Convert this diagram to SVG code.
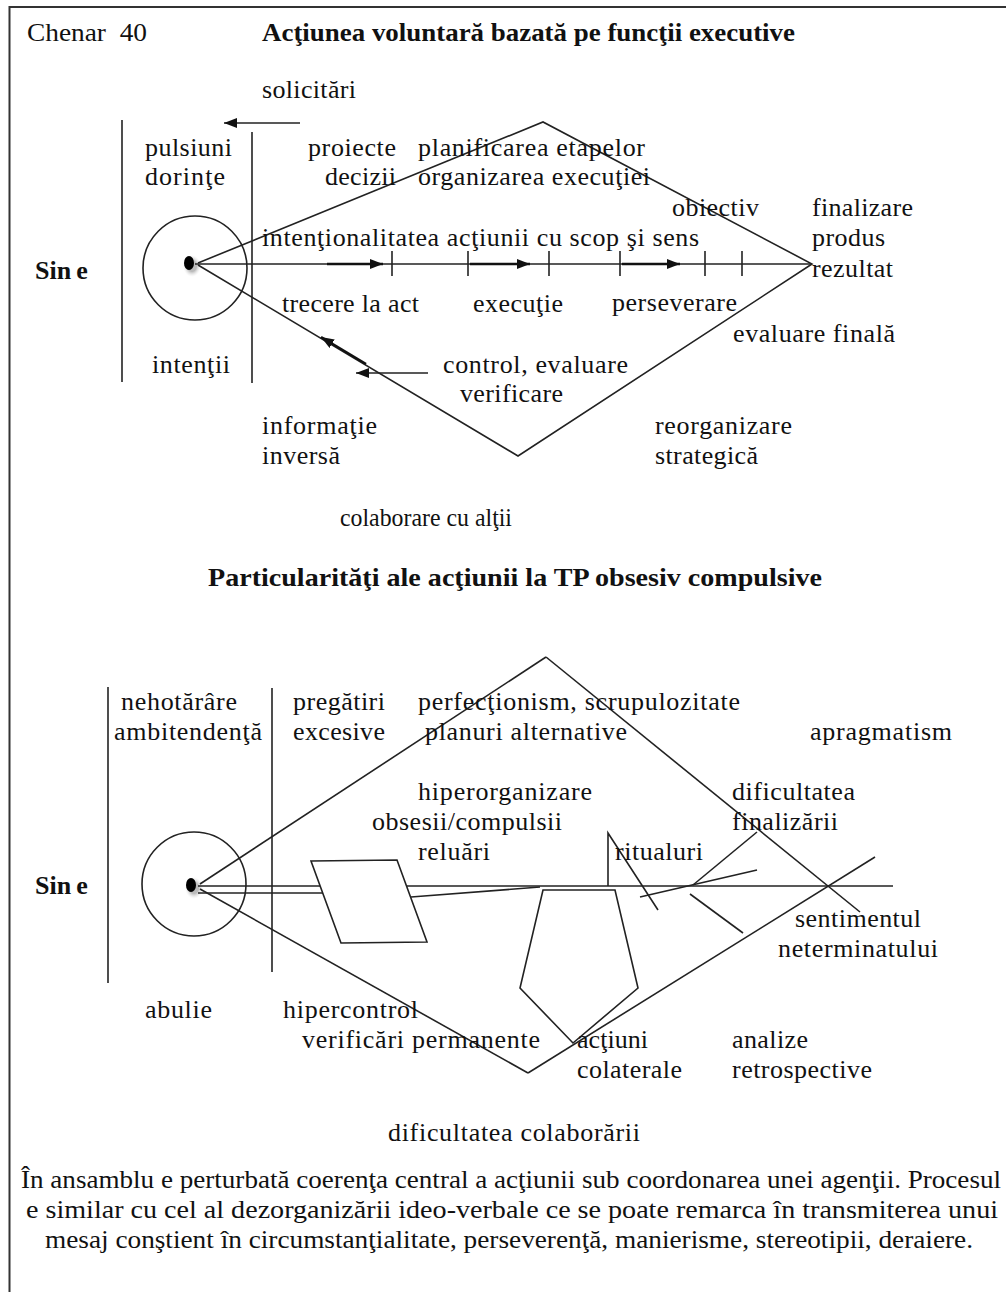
<svg xmlns="http://www.w3.org/2000/svg" width="1006" height="1292" viewBox="0 0 1006 1292">
  <style>
    .t { font-family: "Liberation Serif", "Times New Roman", serif; font-size: 26px; fill: #111; }
    .b { font-weight: bold; }
    .p { font-size: 25px; }
    .ln { stroke: #222; stroke-width: 1.6; fill: none; }
    .thick { stroke: #111; stroke-width: 2.6; fill: none; }
    .frame { stroke: #333; stroke-width: 2; fill: none; }
  </style>
  <defs>
    <marker id="ah" markerUnits="userSpaceOnUse" markerWidth="14" markerHeight="10" refX="13" refY="5" orient="auto">
      <path d="M0,0 L13,5 L0,10 z" fill="#111"/>
    </marker>
    <radialGradient id="halo" cx="0.5" cy="0.5" r="0.5">
      <stop offset="0.5" stop-color="#bbb"/>
      <stop offset="1" stop-color="#eee" stop-opacity="0"/>
    </radialGradient>
  </defs>

  <rect width="1006" height="1292" fill="#fff"/>
  <path class="frame" d="M9.5,1292 V7 H1006"/>

  <!-- headings -->
  <g id="headings">
    <text class="t" x="27" y="41" textLength="120" lengthAdjust="spacingAndGlyphs">Chenar&#160; 40</text>
    <text class="t b" x="262" y="41" textLength="533" lengthAdjust="spacingAndGlyphs">Acţiunea voluntară bazată pe funcţii executive</text>
    <text class="t b" x="208" y="586" textLength="614" lengthAdjust="spacingAndGlyphs">Particularităţi ale acţiunii la TP obsesiv compulsive</text>
  </g>

  <!-- upper scheme: voluntary action -->
  <g id="self-top">
    <line class="ln" x1="122" y1="120" x2="122" y2="382"/>
    <line class="ln" x1="252" y1="132" x2="252" y2="383"/>
    <circle class="ln" cx="195" cy="268" r="52"/>
    <ellipse cx="192" cy="266" rx="9" ry="11" fill="url(#halo)"/>
    <ellipse cx="189" cy="263" rx="5" ry="7" fill="#000"/>
    <text class="t b" x="35" y="279">Sin<tspan dx="5">e</tspan></text>
  </g>

  <g id="connectors-top">
    <!-- diamond -->
    <polyline class="ln" points="198,263 543,122 812,264 518,456 198,265"/>
    <!-- main axis -->
    <line class="ln" x1="195" y1="264" x2="812" y2="264"/>
    <g class="ln">
      <line x1="392" y1="251" x2="392" y2="276"/>
      <line x1="468" y1="251" x2="468" y2="276"/>
      <line x1="549" y1="251" x2="549" y2="276"/>
      <line x1="620" y1="251" x2="620" y2="276"/>
      <line x1="705" y1="251" x2="705" y2="276"/>
      <line x1="742" y1="251" x2="742" y2="276"/>
    </g>
    <line class="thick" x1="327" y1="264" x2="383" y2="264" marker-end="url(#ah)"/>
    <line class="thick" x1="470" y1="264" x2="530" y2="264" marker-end="url(#ah)"/>
    <line class="thick" x1="622" y1="264" x2="680" y2="264" marker-end="url(#ah)"/>
    <!-- solicitations arrow -->
    <line class="ln" x1="300" y1="123" x2="224" y2="123" marker-end="url(#ah)"/>
    <!-- feedback arrows -->
    <line class="thick" x1="366" y1="364" x2="321" y2="337" marker-end="url(#ah)"/>
    <line class="ln" x1="428" y1="373" x2="356" y2="373" marker-end="url(#ah)"/>
  </g>

  <g id="labels-top">
    <text class="t" x="262" y="98" textLength="94">solicitări</text>
    <text class="t" x="145" y="156" textLength="87">pulsiuni</text>
    <text class="t" x="145" y="185" textLength="80">dorinţe</text>
    <text class="t" x="308" y="156" textLength="88">proiecte</text>
    <text class="t" x="325" y="185" textLength="71">decizii</text>
    <text class="t" x="418" y="156" textLength="227">planificarea etapelor</text>
    <text class="t" x="418" y="185" textLength="232">organizarea execuţiei</text>
    <text class="t" x="672" y="216" textLength="87">obiectiv</text>
    <text class="t" x="812" y="216" textLength="101">finalizare</text>
    <text class="t" x="812" y="246" textLength="73">produs</text>
    <text class="t" x="812" y="277" textLength="81">rezultat</text>
    <text class="t" x="262" y="246" textLength="437">intenţionalitatea acţiunii cu scop şi sens</text>
    <text class="t" x="282" y="312" textLength="137">trecere la act</text>
    <text class="t" x="473" y="312" textLength="90">execuţie</text>
    <text class="t" x="612" y="311" textLength="125">perseverare</text>
    <text class="t" x="733" y="342" textLength="162">evaluare finală</text>
    <text class="t" x="152" y="373" textLength="78">intenţii</text>
    <text class="t" x="443" y="373" textLength="185">control, evaluare</text>
    <text class="t" x="460" y="402" textLength="103">verificare</text>
    <text class="t" x="262" y="434" textLength="115">informaţie</text>
    <text class="t" x="262" y="464" textLength="78">inversă</text>
    <text class="t" x="655" y="434" textLength="137">reorganizare</text>
    <text class="t" x="655" y="464" textLength="103">strategică</text>
    <text class="t" x="340" y="526" textLength="172" lengthAdjust="spacingAndGlyphs">colaborare cu alţii</text>
  </g>

  <!-- lower scheme: obsessive-compulsive particularities -->
  <g id="self-bottom">
    <line class="ln" x1="108" y1="687" x2="108" y2="983"/>
    <line class="ln" x1="272" y1="688" x2="272" y2="972"/>
    <circle class="ln" cx="194" cy="884" r="52"/>
    <ellipse cx="194" cy="888" rx="9" ry="11" fill="url(#halo)"/>
    <ellipse cx="191" cy="885" rx="5" ry="7" fill="#000"/>
    <text class="t b" x="35" y="894">Sin<tspan dx="5">e</tspan></text>
  </g>

  <g id="connectors-bottom">
    <!-- distorted diamond -->
    <line class="ln" x1="200" y1="884" x2="546" y2="657"/>
    <line class="ln" x1="546" y1="657" x2="860" y2="912"/>
    <line class="ln" x1="200" y1="889" x2="528" y2="1073"/>
    <line class="ln" x1="528" y1="1073" x2="875" y2="857"/>
    <!-- doubled axis -->
    <line class="ln" x1="198" y1="886" x2="320" y2="886"/>
    <line class="ln" x1="198" y1="893" x2="323" y2="893"/>
    <line class="ln" x1="406" y1="886" x2="893" y2="886"/>
    <line class="ln" x1="411" y1="897" x2="540" y2="887"/>
    <!-- preparations block -->
    <polygon class="ln" points="311,861 397,860 427,942 341,943"/>
    <!-- collateral actions block -->
    <polygon class="ln" points="543,890 615,890 638,988 573,1043 520,988"/>
    <!-- rituals -->
    <polyline class="ln" points="608,886 608,833 658,910"/>
    <!-- unfinished strokes -->
    <line class="ln" x1="640" y1="897" x2="757" y2="870"/>
    <line class="ln" x1="693" y1="885" x2="757" y2="832"/>
    <line class="ln" x1="690" y1="894" x2="743" y2="933"/>
  </g>

  <g id="labels-bottom">
    <text class="t" x="121" y="710" textLength="116">nehotărâre</text>
    <text class="t" x="114" y="740" textLength="148">ambitendenţă</text>
    <text class="t" x="293" y="710" textLength="92">pregătiri</text>
    <text class="t" x="293" y="740" textLength="92">excesive</text>
    <text class="t" x="418" y="710" textLength="322">perfecţionism, scrupulozitate</text>
    <text class="t" x="425" y="740" textLength="202">planuri alternative</text>
    <text class="t" x="810" y="740" textLength="142">apragmatism</text>
    <text class="t" x="418" y="800" textLength="174">hiperorganizare</text>
    <text class="t" x="372" y="830" textLength="190">obsesii/compulsii</text>
    <text class="t" x="418" y="860" textLength="72">reluări</text>
    <text class="t" x="732" y="800" textLength="123">dificultatea</text>
    <text class="t" x="732" y="830" textLength="106">finalizării</text>
    <text class="t" x="615" y="860" textLength="88">ritualuri</text>
    <text class="t" x="795" y="927" textLength="126">sentimentul</text>
    <text class="t" x="778" y="957" textLength="160">neterminatului</text>
    <text class="t" x="145" y="1018" textLength="67">abulie</text>
    <text class="t" x="283" y="1018" textLength="135">hipercontrol</text>
    <text class="t" x="302" y="1048" textLength="238">verificări permanente</text>
    <text class="t" x="577" y="1048" textLength="71">acţiuni</text>
    <text class="t" x="577" y="1078" textLength="105">colaterale</text>
    <text class="t" x="732" y="1048" textLength="76">analize</text>
    <text class="t" x="732" y="1078" textLength="140">retrospective</text>
    <text class="t" x="388" y="1141" textLength="252">dificultatea colaborării</text>
  </g>

  <g id="summary">
    <text class="t p" x="21" y="1188" textLength="980" lengthAdjust="spacingAndGlyphs">În ansamblu e perturbată coerenţa central a acţiunii sub coordonarea unei agenţii. Procesul</text>
    <text class="t p" x="26" y="1218" textLength="972" lengthAdjust="spacingAndGlyphs">e similar cu cel al dezorganizării ideo-verbale ce se poate remarca în transmiterea unui</text>
    <text class="t p" x="45" y="1248" textLength="928" lengthAdjust="spacingAndGlyphs">mesaj conştient în circumstanţialitate, perseverenţă, manierisme, stereotipii, deraiere.</text>
  </g>
</svg>
